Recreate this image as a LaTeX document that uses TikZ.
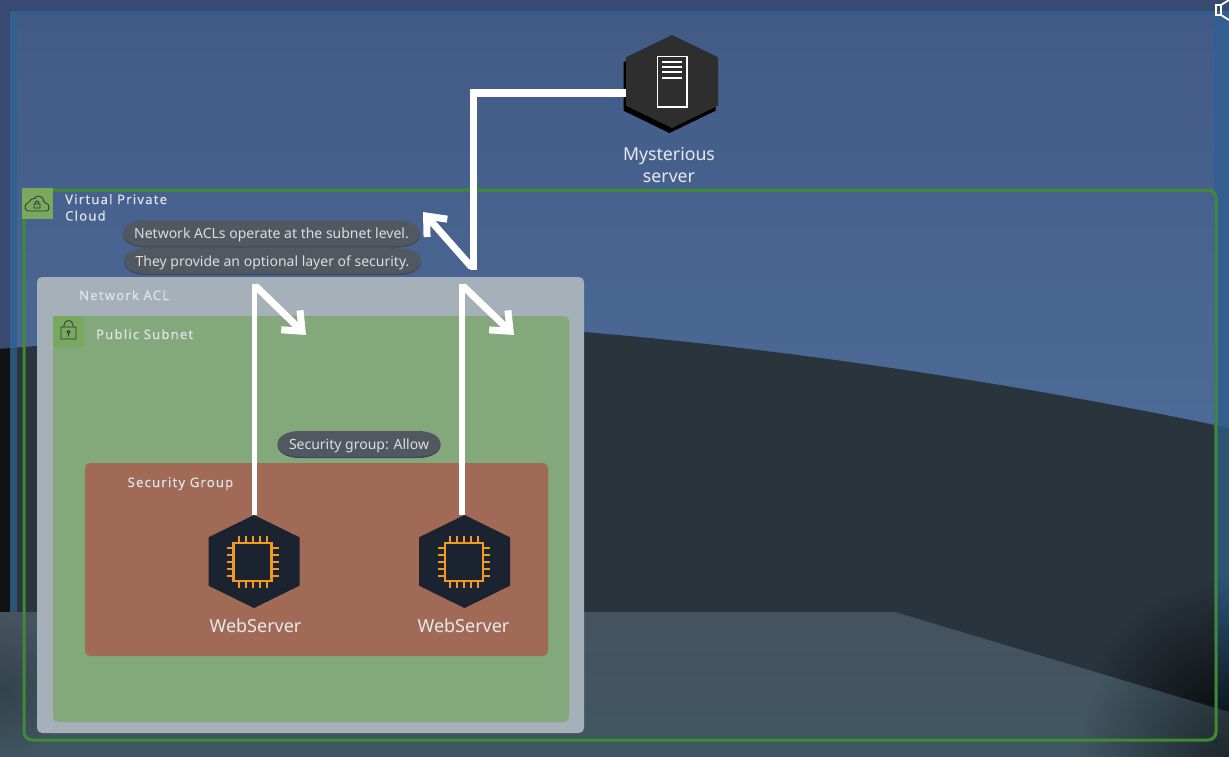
\documentclass[tikz,border=0pt]{standalone}
\usepackage{fontspec}
\setmainfont{Noto Sans}
\usetikzlibrary{arrows.meta,calc,fadings}
\definecolor{skyout}{HTML}{384972}
\definecolor{skytop}{HTML}{425A86}
\definecolor{skymid}{HTML}{4D6B98}
\definecolor{ground}{HTML}{2A343D}
\definecolor{floorc}{HTML}{45535F}
\definecolor{vpcg}{HTML}{3F8A32}
\definecolor{frameb}{HTML}{2F74AE}
\definecolor{aclc}{HTML}{A6B0B8}
\definecolor{subnetc}{HTML}{82A87B}
\definecolor{sgc}{HTML}{A16A57}
\definecolor{tagg}{HTML}{79A95C}
\definecolor{pill}{HTML}{525860}
\definecolor{pillsh}{HTML}{3E4A5C}
\definecolor{chipbg}{HTML}{1C2330}
\definecolor{chipor}{HTML}{F29A1F}
\definecolor{srv}{HTML}{2E2E2E}
\definecolor{lbl}{HTML}{E6EAF0}
\definecolor{grouptxt}{HTML}{DDE3EA}
\tikzfading[name=glow,inner color=transparent!10,outer color=transparent!100]
\newcommand{\pillpath}[3]{%
  \coordinate (pNW) at ($(path picture bounding box.north west)+(0,#2)$);
  \coordinate (pNE) at ($(path picture bounding box.north east)+(0,#2)$);
  \coordinate (pSW) at ($(path picture bounding box.south west)+(0,-#3)$);
  \coordinate (pSE) at ($(path picture bounding box.south east)+(0,-#3)$);
  \coordinate (pW) at ($(pNW)!.5!(pSW)$);
  \coordinate (pE) at ($(pNE)!.5!(pSE)$);
  \fill[#1] (pW) .. controls ($(pW)+(0,-7)$) and ($(pNW)+(9,0)$) .. ($(pNW)+(22,0)$)
    -- ($(pNE)+(-22,0)$) .. controls ($(pNE)+(-9,0)$) and ($(pE)+(0,-7)$) .. (pE)
    .. controls ($(pE)+(0,7)$) and ($(pSE)+(-9,0)$) .. ($(pSE)+(-22,0)$)
    -- ($(pSW)+(22,0)$) .. controls ($(pSW)+(9,0)$) and ($(pW)+(0,7)$) .. (pW) -- cycle;}
\tikzset{
  x=1pt,y=-1pt,
  container/.style={rounded corners=5pt,draw=none},
  grouplabel/.style={anchor=base west,text=grouptxt,font=\fontsize{13}{16.5}\selectfont\addfontfeature{LetterSpace=9.5,FakeBold=.25},inner sep=0,align=left},
  pilltag/.style={rectangle,text=lbl!92!pill,font=\fontsize{14}{17}\selectfont,inner sep=0,minimum height=27pt,text height=12pt,text depth=3pt,
    path picture={\pillpath{pillsh}{1.5}{0}\pillpath{pill}{0}{1.5}}},
  hexnode/.style={rectangle,inner sep=0,minimum width=#1,minimum height=93pt},
  hexfill/.style={path picture={
    \fill[#1] (path picture bounding box.north)
      -- ($(path picture bounding box.north east)!.24!(path picture bounding box.south east)$)
      -- ($(path picture bounding box.north east)!.76!(path picture bounding box.south east)$)
      -- (path picture bounding box.south)
      -- ($(path picture bounding box.north west)!.76!(path picture bounding box.south west)$)
      -- ($(path picture bounding box.north west)!.24!(path picture bounding box.south west)$)
      -- cycle;}},
  caption/.style={text=lbl,font=\fontsize{17.7}{22}\selectfont,align=center,inner sep=0},
  flowline/.style={draw=white,line join=miter,line cap=butt},
  flowhead/.style={draw=white,line width=7pt,line cap=butt,-{Straight Barb[length=16pt,width=27pt,line width=7pt,line join=miter]}},
  pin/.style={draw=chipor,line width=2pt},
  iconline/.style={draw=ground,line width=.8pt},
}
\newcommand{\chipicon}[1]{%
  \draw[draw=chipor,line width=2.4pt] ($(#1)+(-19,-19)$) rectangle ($(#1)+(19,19)$);
  \foreach \d in {-14,-7,0,7,14}{
    \draw[pin] ($(#1)+(\d,-26)$) -- ($(#1)+(\d,-20)$);
    \draw[pin] ($(#1)+(\d,20)$) -- ($(#1)+(\d,26)$);
    \draw[pin] ($(#1)+(-26,\d)$) -- ($(#1)+(-20,\d)$);
    \draw[pin] ($(#1)+(20,\d)$) -- ($(#1)+(26,\d)$);
  }}
\begin{document}
\begin{tikzpicture}
\useasboundingbox (0,0) rectangle (1229,756);
% backdrop
\fill[skyout] (0,0) rectangle (1229,440);
\shade[top color=skytop,bottom color=skymid] (17,15) rectangle (1214,440);
\fill[ground] (0,349) .. controls (180,333) and (400,322) .. (584,332) .. controls (800,350) and (1040,388) .. (1229,428) -- (1229,757) -- (0,757) -- cycle;
\fill[black!93] (0,349) -- (10,348) -- (10,620) -- (0,620) -- cycle;
% translucent outer frame
\fill[frameb,opacity=.5] (10,11) rectangle (17,620);
\fill[frameb,opacity=.45] (17,11) rectangle (1214,15);
\fill[frameb,opacity=.5] (1214,11) rectangle (1229,720);
\begin{scope}
\clip (0,400) rectangle (1229,756);
\fill[black,opacity=.9,path fading=glow] (1229,730) circle (150);
\end{scope}
% floor
\shade[top color=floorc,bottom color=floorc!92!teal] (0,612) -- (895,612) -- (1229,712) -- (1229,757) -- (0,757) -- cycle;
\begin{scope}
\clip (0,612) -- (895,612) -- (1229,712) -- (1229,757) -- (0,757) -- cycle;
\fill[black,opacity=.6,path fading=glow] (1229,760) circle (150);
\fill[black,opacity=.25,path fading=glow] (0,690) circle (70);
\end{scope}
% containers
\draw[vpcg,line width=3pt,rounded corners=8pt] (24,190) rectangle (1216,740);
\fill[container,fill=aclc] (37,277) rectangle (584,733);
\fill[container,fill=subnetc] (53,316) rectangle (569,722);
\fill[container,fill=sgc] (85,463) rectangle (548,656);
% group tags
\fill[tagg] (22,188) rectangle (53,219);
\draw[iconline,rounded corners=1.5pt] (30,211) .. controls (24,211) and (24,204) .. (29,203) .. controls (30,199) and (33,199) .. (34,200) .. controls (36,194) and (44,196) .. (44,203) .. controls (50,203) and (50,211) .. (45,211) -- cycle;
\draw[iconline] (34,208) rectangle (40,204) (35,204) .. controls (35,200) and (39,200) .. (39,204);
\fill[tagg] (53,316) rectangle (84,347);
\draw[iconline] (61,327) rectangle (76,339) (64,327) -- (64,325) .. controls (64,319) and (73,319) .. (73,325) -- (73,327);
\draw[iconline] (68.5,332) circle (1.5) (68.5,333.5) -- (68.5,336.5);
% labels
\node[grouplabel] (vpclabel) at (65,220.5) {Virtual Private\\Cloud};
\node[grouplabel] (acllabel) at (79,300) {Network ACL};
\node[grouplabel] (subnetlabel) at (96,339) {Public Subnet};
\node[grouplabel] (sglabel) at (127.5,487) {Security Group};
% servers
\node[hexnode=92pt,hexfill=black] (mysteryshadow) at (669.5,86.5) {};
\node[hexnode=92pt,hexfill=srv] (mystery) at (672,81.5) {};
\draw[white,line width=1.5pt] (657.5,56.5) rectangle (687,107);
\draw[white,line width=1.8pt] (662,62) -- (682,62) (662,67) -- (682,67) (662,72) -- (682,72) (662,78) -- (682,78);
\node[caption] (mysterylabel) at (669,165) {Mysterious\\server};
\node[hexnode=91pt,hexfill=chipbg] (web1) at (254,561.5) {};
\node[hexnode=91pt,hexfill=chipbg] (web2) at (464.5,561.5) {};
\coordinate (chip1) at (252.5,562);
\coordinate (chip2) at (464,562);
\chipicon{chip1}
\chipicon{chip2}
\node[caption,font=\fontsize{18}{22}\selectfont] (web1label) at (255.5,626) {WebServer};
\node[caption,font=\fontsize{18}{22}\selectfont] (web2label) at (463.5,626) {WebServer};
% connectors
\coordinate (bendtop) at (473.5,93);
\coordinate (bendmid) at (473.5,270);
\coordinate (diagstart) at (471.5,267);
\coordinate (tipa) at (423,212);
\coordinate (bend1) at (254.5,284);
\coordinate (diag1) at (255.5,286);
\coordinate (tip1) at (306,335);
\coordinate (bend2) at (462,284);
\coordinate (diag2) at (463,286);
\coordinate (tip2) at (514,335);
\draw[flowline,line width=7.5pt] (mystery.west |- bendtop) -- (bendtop) -- (bendmid);
\draw[flowhead] (diagstart) -- (tipa);
\draw[flowline,line width=5.8pt] (bend1 |- web1.north) -- (bend1);
\draw[flowhead] (diag1) -- (tip1);
\draw[flowline,line width=5.8pt] (bend2 |- web2.north) -- (bend2);
\draw[flowhead] (diag2) -- (tip2);
% pills
\node[pilltag,minimum width=297pt] (pill1) at (271.5,234) {Network ACLs operate at the subnet level.};
\node[pilltag,minimum width=297pt] (pill2) at (272.5,261.5) {They provide an optional layer of security.};
\node[pilltag,minimum width=163pt] (pill3) at (359,444.5) {Security group: Allow};
% speaker glyph
\draw[white,line width=1.8pt] (1216,5) rectangle (1221,15) (1221,5) -- (1229,0) (1221,15) -- (1229,20);
\end{tikzpicture}
\end{document}
